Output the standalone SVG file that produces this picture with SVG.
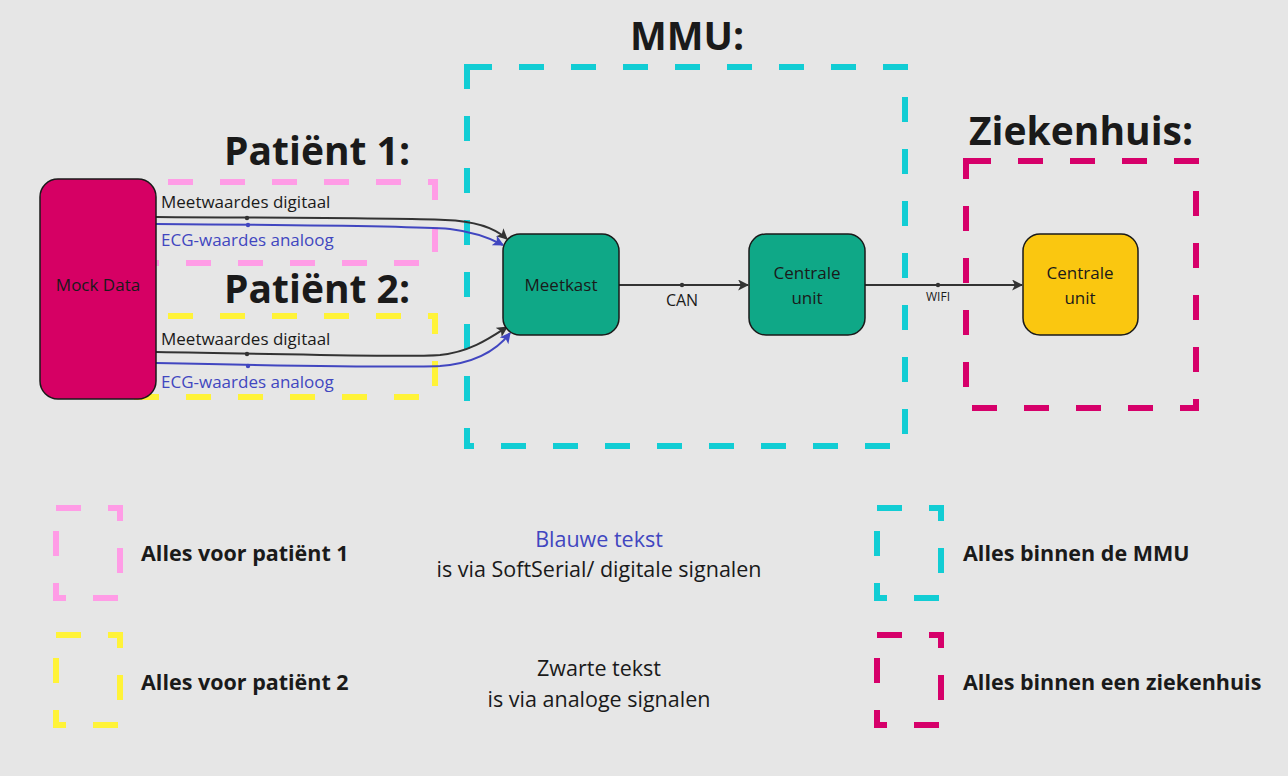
<svg xmlns="http://www.w3.org/2000/svg" width="1288" height="776" viewBox="0 0 1288 776">
<style>
.bg{fill:#e6e6e6}
.dash{fill:none;stroke-width:6;stroke-dasharray:25 27}
.pink{stroke:#ff9ce6}
.yellow{stroke:#fff338}
.cyan{stroke:#12cdd4}
.mag{stroke:#d6006a}
.node{stroke:#1a1a1a;stroke-width:1.5}
.t{font-family:"Open Sans","Noto Sans",sans-serif;fill:#1a1a1a}
.title{font-size:39px;font-weight:700}
.lbl{font-size:17px}
.blue{fill:#4146c0}
.leg{font-size:21.5px;font-weight:700}
.mid{font-size:21.5px;text-anchor:middle}
.nt{font-size:17px;text-anchor:middle}
.edge{fill:none;stroke-width:2}
.ek{stroke:#333333}
.eb{stroke:#4146c0}
</style>
<defs>
<marker id="ak" viewBox="0 0 10 10" refX="9" refY="5" markerWidth="11" markerHeight="11" markerUnits="userSpaceOnUse" orient="auto"><path d="M0,0 L10,5 L0,10 L2.5,5 z" fill="#333333"/></marker>
<marker id="ab" viewBox="0 0 10 10" refX="9" refY="5" markerWidth="11" markerHeight="11" markerUnits="userSpaceOnUse" orient="auto"><path d="M0,0 L10,5 L0,10 L2.5,5 z" fill="#4146c0"/></marker>
</defs>
<rect class="bg" x="0" y="0" width="1288" height="776"/>

<g id="group-mmu">
<path class="dash cyan" d="M467,67 H905 V446 H467 Z"/>
<text class="t title" x="630" y="50">MMU:</text>
</g>
<g id="group-ziekenhuis">
<path class="dash mag" d="M966,161 H1196 V408 H966 Z"/>
<text class="t title" x="969" y="145">Ziekenhuis:</text>
</g>
<g id="group-patient1">
<path class="dash pink" d="M116,182 H435 V263 H116 Z"/>
<text class="t title" x="224" y="165">Patiënt 1:</text>
</g>
<g id="group-patient2">
<path class="dash yellow" d="M116,316 H435 V397 H116 Z"/>
<text class="t title" x="224" y="303">Patiënt 2:</text>
</g>

<g id="connectors">
<path class="edge ek" d="M156,217 C300,218 400,218 445,220 C475,221 495,228 507,239" marker-end="url(#ak)"/>
<circle cx="247" cy="218" r="2.2" fill="#333333"/>
<text class="t lbl" x="161" y="208">Meetwaardes digitaal</text>
<path class="edge eb" d="M156,224 C300,225 410,226 450,229 C475,232 490,238 503,245" marker-end="url(#ab)"/>
<circle cx="248" cy="225" r="2.2" fill="#4146c0"/>
<text class="t lbl blue" x="161" y="246">ECG-waardes analoog</text>
<path class="edge ek" d="M156,352 C300,354 400,358 440,355 C470,352 490,338 507,327" marker-end="url(#ak)"/>
<circle cx="247" cy="354" r="2.2" fill="#333333"/>
<text class="t lbl" x="161" y="345">Meetwaardes digitaal</text>
<path class="edge eb" d="M156,363 C300,366 400,368 440,366 C475,363 497,350 510,333" marker-end="url(#ab)"/>
<circle cx="248" cy="366" r="2.2" fill="#4146c0"/>
<text class="t lbl blue" x="161" y="388">ECG-waardes analoog</text>
<path class="edge ek" d="M619,285 H748" marker-end="url(#ak)"/>
<circle cx="682" cy="285" r="2.2" fill="#333333"/>
<text class="t" x="682" y="306" font-size="16" text-anchor="middle" fill="#333333">CAN</text>
<path class="edge ek" d="M865,285 H1022" marker-end="url(#ak)"/>
<circle cx="938" cy="285" r="2.2" fill="#333333"/>
<text class="t" x="938" y="301" font-size="12" text-anchor="middle" fill="#333333">WIFI</text>
</g>

<g id="node-mockdata">
<rect class="node" x="40" y="179" width="116" height="220" rx="18" fill="#d60064"/>
<text class="t nt" x="98" y="291">Mock Data</text>
</g>
<g id="node-meetkast">
<rect class="node" x="503" y="234" width="116" height="101" rx="17" fill="#0fa887"/>
<text class="t nt" x="561" y="291">Meetkast</text>
</g>
<g id="node-centrale-mmu">
<rect class="node" x="749" y="234" width="116" height="101" rx="17" fill="#0fa887"/>
<text class="t nt" x="807" y="279">Centrale</text>
<text class="t nt" x="807" y="304">unit</text>
</g>
<g id="node-centrale-ziekenhuis">
<rect class="node" x="1023" y="234" width="115" height="101" rx="17" fill="#fac710"/>
<text class="t nt" x="1080" y="279">Centrale</text>
<text class="t nt" x="1080" y="304">unit</text>
</g>

<g id="legend">
<path class="dash pink" d="M56,508 H120 V598 H56 Z"/>
<text class="t leg" x="141" y="561">Alles voor patiënt 1</text>
<path class="dash yellow" d="M56,635 H120 V725 H56 Z"/>
<text class="t leg" x="141" y="690">Alles voor patiënt 2</text>
<path class="dash cyan" d="M877,508 H941 V598 H877 Z"/>
<text class="t leg" x="963" y="561">Alles binnen de MMU</text>
<path class="dash mag" d="M877,635 H941 V725 H877 Z"/>
<text class="t leg" x="963" y="690">Alles binnen een ziekenhuis</text>
<text class="t mid blue" x="599" y="547">Blauwe tekst</text>
<text class="t mid" x="599" y="577">is via SoftSerial/ digitale signalen</text>
<text class="t mid" x="599" y="676">Zwarte tekst</text>
<text class="t mid" x="599" y="707">is via analoge signalen</text>
</g>
</svg>
